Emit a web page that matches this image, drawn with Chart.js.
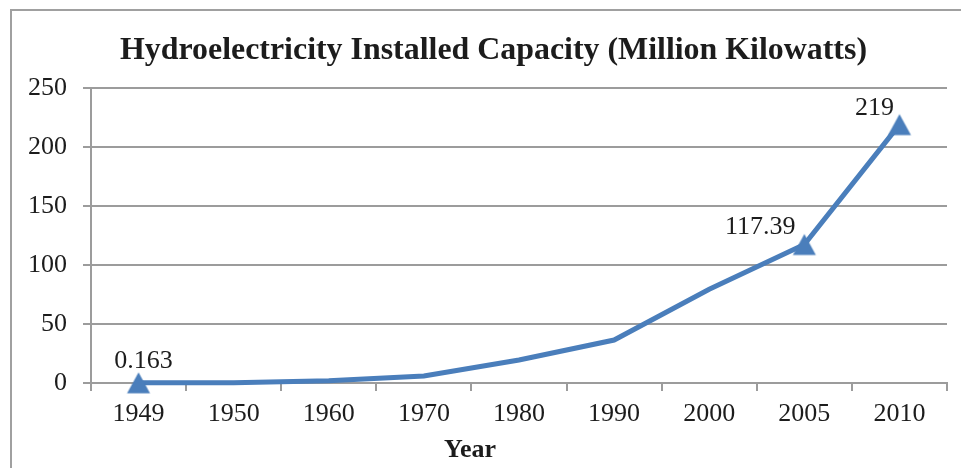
<!DOCTYPE html>
<html>
<head>
<meta charset="utf-8">
<script src="https://cdn.jsdelivr.net/npm/chart.js@4"></script>
<style>
  html, body { margin: 0; padding: 0; background: #fff; }
  #wrap { position: relative; width: 961px; height: 468px; }
</style>
</head>
<body>
<div id="wrap"><canvas id="c" width="961" height="468"></canvas></div>
<script>
const chartTitle = 'Hydroelectricity Installed Capacity (Million Kilowatts)';
const xAxisTitle = 'Year';
const years = ['1949', '1950', '1960', '1970', '1980', '1990', '2000', '2005', '2010'];
const capacity = [0.163, 0.3, 2.0, 6.0, 19.5, 36.4, 79.4, 117.39, 219];
const markedYears = ['1949', '2005', '2010'];
const yTicks = [0, 50, 100, 150, 200, 250];

const SERIF = '"Liberation Serif", "Times New Roman", "DejaVu Serif", serif';
const TEXT = '#1c1c1c';
const BLUE = '#4a7ebb';
const GRID = '#9c9c9c';

const labelOffsets = { '1949': [5, -22], '2005': [-44, -17], '2010': [-25, -16] };

// triangle marker whose bounding box is centred on the point
const tri = document.createElement('canvas');
tri.width = 26; tri.height = 24;
(function () {
  const t = tri.getContext('2d');
  t.fillStyle = BLUE;
  t.beginPath();
  t.moveTo(13, 1.5);
  t.lineTo(24.5, 22.5);
  t.lineTo(1.5, 22.5);
  t.closePath();
  t.fill();
})();

const decor = {
  id: 'decor',
  beforeDraw(chart) {
    const ctx = chart.ctx;
    ctx.save();
    ctx.strokeStyle = '#a0a0a0';
    ctx.lineWidth = 2;
    ctx.beginPath();
    ctx.moveTo(11, 468);
    ctx.lineTo(11, 10);
    ctx.lineTo(961, 10);
    ctx.stroke();
    ctx.restore();
  },
  afterDraw(chart) {
    const ctx = chart.ctx;
    ctx.save();
    ctx.fillStyle = TEXT;
    ctx.font = 'bold 32px ' + SERIF;
    ctx.textAlign = 'center';
    ctx.textBaseline = 'alphabetic';
    const w = ctx.measureText(chartTitle).width;
    const sx = 747 / w;
    ctx.translate(493.5, 59);
    ctx.scale(sx, 1);
    ctx.fillText(chartTitle, 0, 0);
    ctx.restore();

    ctx.save();
    ctx.fillStyle = TEXT;
    ctx.font = 'bold 26px ' + SERIF;
    ctx.textAlign = 'center';
    ctx.textBaseline = 'middle';
    ctx.fillText(xAxisTitle, 470, 450);

    const meta = chart.getDatasetMeta(0);
    ctx.font = '26px ' + SERIF;
    years.forEach((yr, i) => {
      if (!markedYears.includes(yr)) return;
      const el = meta.data[i];
      const off = labelOffsets[yr];
      ctx.fillText(String(capacity[i]), el.x + off[0], el.y + off[1]);
    });
    ctx.restore();
  }
};

new Chart(document.getElementById('c'), {
  type: 'line',
  data: {
    labels: years,
    datasets: [{
      data: capacity,
      borderColor: BLUE,
      backgroundColor: BLUE,
      borderWidth: 5,
      tension: 0,
      clip: false,
      pointStyle: years.map(y => markedYears.includes(y) ? tri : false),
      pointRadius: years.map(y => markedYears.includes(y) ? 12 : 0),
      pointHoverRadius: years.map(y => markedYears.includes(y) ? 12 : 0),
      pointBorderWidth: 0,
      pointBackgroundColor: BLUE,
      pointBorderColor: BLUE
    }]
  },
  options: {
    responsive: false,
    animation: false,
    events: [],
    layout: { padding: { left: 0, right: 14, top: 88, bottom: 0 } },
    plugins: { legend: { display: false }, title: { display: false }, tooltip: { enabled: false } },
    scales: {
      x: {
        type: 'category',
        offset: true,
        afterFit(s) { s.height = 85; },
        grid: { display: true, drawOnChartArea: false, drawTicks: true, tickLength: 8, color: GRID, lineWidth: 2, offset: true },
        border: { display: true, color: GRID, width: 2 },
        ticks: { color: TEXT, font: { family: SERIF, size: 26 }, padding: 8, maxRotation: 0, autoSkip: false }
      },
      y: {
        min: 0,
        max: 250,
        afterFit(s) { s.width = 91; },
        afterBuildTicks(s) { s.ticks = yTicks.map(v => ({ value: v })); },
        grid: { color: GRID, lineWidth: 2, drawTicks: true, tickLength: 8 },
        border: { display: true, color: GRID, width: 2 },
        ticks: { color: TEXT, font: { family: SERIF, size: 26 }, padding: 16 }
      }
    }
  },
  plugins: [decor]
});
</script>
</body>
</html>
